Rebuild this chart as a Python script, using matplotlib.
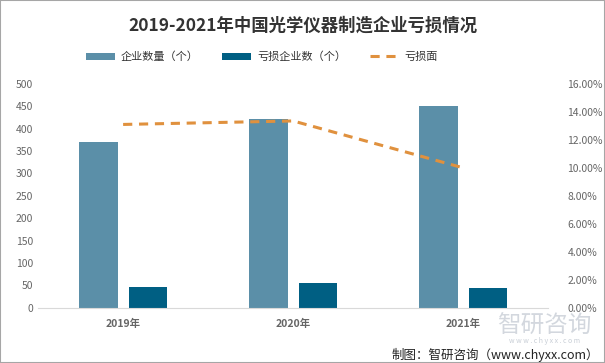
import numpy as np
import matplotlib.pyplot as plt
from matplotlib.ticker import PercentFormatter

plt.rcParams['font.family'] = ['Noto Sans CJK SC', 'DejaVu Sans']

years = ['2019年', '2020年', '2021年']
companies = [371, 422, 451]
loss_companies = [47, 56, 45]
loss_ratio = [13.1, 13.35, 10.0]

fig = plt.figure(figsize=(6.05, 3.63), dpi=100)
ax = fig.add_axes([0.063, 0.152, 0.843, 0.617])
ax2 = ax.twinx()

x = np.arange(len(years))
w = 0.225
ax.bar(x - 0.145, companies, w, color='#5b8fa8', label='企业数量（个）', zorder=2)
ax.bar(x + 0.145, loss_companies, w, color='#005f83', label='亏损企业数（个）', zorder=2)
ax2.plot(x, loss_ratio, color='#e0913e', lw=2.2, dashes=(3, 2.2), label='亏损面')

ax.set_xlim(-0.5, 2.5)
ax.set_ylim(0, 500)
ax.set_yticks(range(0, 501, 50))
ax2.set_ylim(0, 16)
ax2.set_yticks(range(0, 17, 2))
ax2.yaxis.set_major_formatter(PercentFormatter(decimals=2))

ax.set_xticks(x)
ax.set_xticklabels(years, fontsize=8.5, fontweight='bold', color='#222222')
for a in (ax, ax2):
    for s in ('top', 'left', 'right'):
        a.spines[s].set_visible(False)
    a.tick_params(length=0, labelsize=7.5, labelcolor='#666666')
ax2.spines['bottom'].set_visible(False)
ax.spines['bottom'].set_color('#d9d9d9')
ax.tick_params(axis='x', pad=8)
ax2.tick_params(axis='y', pad=14)

fig.text(0.5, 0.93, '2019-2021年中国光学仪器制造企业亏损情况', ha='center', va='center',
         fontsize=12.5, fontweight='bold', color='#333333')

h1, l1 = ax.get_legend_handles_labels()
h2, l2 = ax2.get_legend_handles_labels()
fig.legend(h1 + h2, l1 + l2, loc='center', bbox_to_anchor=(0.433, 0.843), ncol=3,
           frameon=False, fontsize=8, handlelength=2.6, handletextpad=0.5,
           columnspacing=2.2, labelcolor='#333333')

# watermark
fig.text(0.9, 0.1, '智研咨询', ha='center', va='center', fontsize=17, color='#c8ced6', alpha=0.8)
fig.text(0.9, 0.06, 'w w w . c h y x x . c o m', ha='center', va='center', fontsize=5, color='#c8ced6')
fig.text(0.99, 0.022, '制图：智研咨询（www.chyxx.com）', ha='right', va='center', fontsize=9, color='#222222')

fig.patches.append(plt.Rectangle((0, 0), 1, 1, transform=fig.transFigure, fill=False,
                                 edgecolor='#a6a6a6', lw=1.5))

fig.savefig('out.png', dpi=100)
